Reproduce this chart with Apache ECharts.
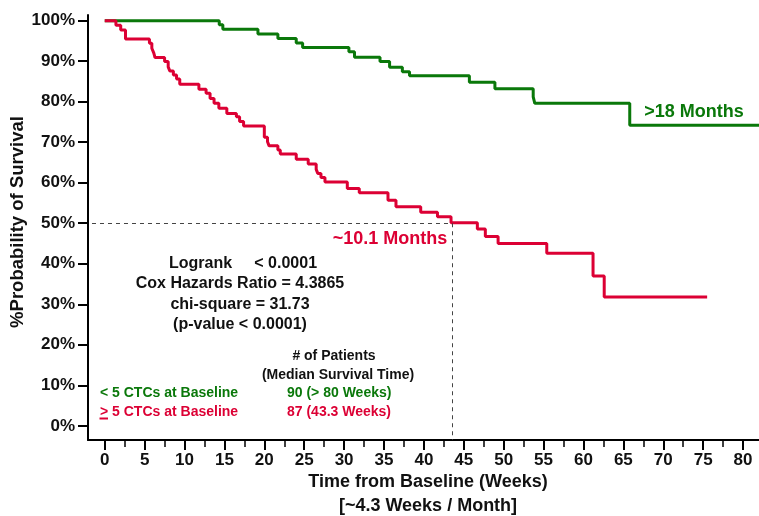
<!DOCTYPE html>
<html>
<head>
<meta charset="utf-8">
<script src="https://cdn.jsdelivr.net/npm/echarts@6/dist/echarts.min.js"></script>
<style>html,body{margin:0;padding:0;background:#fff;}#c{width:759px;height:516px;}</style>
</head>
<body>
<div id="c"></div>
<script>
// Kaplan-Meier steps (weeks, % survival after the step)
var greenWeeks = [0, 14.35, 14.8, 19.2, 21.7, 24.0, 24.8, 30.6, 31.3, 34.5, 35.7, 37.3, 38.2, 45.7, 48.9, 53.7, 53.9, 65.8, 82];
var greenSurv  = [100, 99.0, 97.9, 96.7, 95.6, 94.5, 93.4, 92.3, 91.0, 89.9, 88.5, 87.4, 86.4, 84.8, 83.2, 81.2, 79.6, 74.2, 74.2];

var redWeeks = [0, 1.4, 2.0, 2.6, 5.6, 5.9, 6.15, 6.3, 7.5, 7.95, 8.15, 8.6, 9.0, 9.4, 11.8, 12.7, 13.2, 13.7, 14.3, 15.3, 16.5, 16.9, 17.4, 20.0, 20.4, 20.6, 21.7, 22.0, 24.0, 25.5, 26.5, 26.7, 27.1, 27.6, 30.4, 31.9, 35.5, 36.5, 39.6, 41.7, 43.4, 46.7, 47.7, 49.3, 55.4, 61.2, 62.6, 75.5];
var redSurv  = [100, 98.9, 97.7, 95.5, 94.4, 93.2, 92.0, 90.9, 89.9, 88.6, 87.6, 86.6, 85.6, 84.3, 83.1, 82.1, 80.8, 79.6, 78.4, 77.1, 76.3, 75.1, 74.0, 71.2, 70.1, 69.1, 68.1, 67.1, 65.8, 64.6, 63.3, 62.3, 61.3, 60.2, 58.6, 57.5, 55.7, 54.1, 52.7, 51.6, 50.1, 48.6, 46.7, 45.0, 42.6, 37.0, 31.8, 31.8];

var xMajorTicks = [0, 5, 10, 15, 20, 25, 30, 35, 40, 45, 50, 55, 60, 65, 70, 75, 80];
var xMinorTicks = [2.5, 7.5, 12.5, 17.5, 22.5, 27.5, 32.5, 37.5, 42.5, 47.5, 52.5, 57.5, 62.5, 67.5, 72.5, 77.5];
var yTicks = [0, 10, 20, 30, 40, 50, 60, 70, 80, 90, 100];
var medianWeek = 43.5;

var GREEN = '#0a780a', RED = '#dc0034';
var FONT = 'Liberation Sans, Arial, sans-serif';

function zip(a, b) { return a.map(function (v, i) { return [v, b[i]]; }); }

var chart = echarts.init(document.getElementById('c'));
var X_MIN = -2.1, X_MAX = 82, Y_MIN = -3.5, Y_MAX = 101.4;

function txt(x, y, s, opts) {
  opts = opts || {};
  return {
    type: 'text', x: x, y: y, silent: true,
    style: {
      text: s, fill: opts.color || '#111', font: 'bold ' + (opts.size || 16) + 'px ' + FONT,
      textAlign: opts.align || 'center', textVerticalAlign: 'middle'
    },
    rotation: opts.rotation || 0
  };
}

chart.setOption({
  animation: false,
  backgroundColor: '#fff',
  grid: { left: 88, right: 0, top: 15, bottom: 76, containLabel: false },
  xAxis: [{
    type: 'value', min: X_MIN, max: X_MAX, position: 'bottom',
    axisLine: { show: true, onZero: false, lineStyle: { color: '#000', width: 2 } },
    axisTick: { show: true, customValues: xMajorTicks, length: 10, lineStyle: { color: '#000', width: 2 } },
    axisLabel: { show: true, customValues: xMajorTicks, margin: 12, color: '#111', fontSize: 17, fontWeight: 'bold', fontFamily: FONT },
    splitLine: { show: false }
  }, {
    type: 'value', min: X_MIN, max: X_MAX, position: 'bottom',
    axisLine: { show: false, onZero: false },
    axisTick: { show: true, customValues: xMinorTicks, length: 7, lineStyle: { color: '#000', width: 1.5 } },
    axisLabel: { show: false },
    splitLine: { show: false }
  }],
  yAxis: {
    type: 'value', min: Y_MIN, max: Y_MAX,
    axisLine: { show: true, onZero: false, lineStyle: { color: '#000', width: 2 } },
    axisTick: { show: true, customValues: yTicks, length: 10, lineStyle: { color: '#000', width: 2 } },
    axisLabel: { show: true, customValues: yTicks, margin: 13, formatter: '{value}%', color: '#111', fontSize: 17, fontWeight: 'bold', fontFamily: FONT },
    splitLine: { show: false }
  },
  series: [{
    name: '< 5 CTCs', type: 'line', step: 'end', data: zip(greenWeeks, greenSurv),
    showSymbol: false, symbol: 'none', lineStyle: { color: GREEN, width: 3 }, itemStyle: { color: GREEN }, z: 3
  }, {
    name: '>= 5 CTCs', type: 'line', step: 'end', data: zip(redWeeks, redSurv),
    showSymbol: false, symbol: 'none', lineStyle: { color: RED, width: 3 }, itemStyle: { color: RED }, z: 4,
    markLine: {
      silent: true, symbol: 'none', animation: false,
      label: { show: false },
      lineStyle: { color: '#444', width: 1, type: [4, 4] },
      data: [
        [{ coord: [X_MIN + 0.5, 50] }, { coord: [medianWeek, 50] }],
        [{ coord: [medianWeek, 50] }, { coord: [medianWeek, Y_MIN] }]
      ]
    }
  }],
  graphic: [
    txt(694, 112, '>18 Months', { color: GREEN, size: 18 }),
    txt(390, 239, '~10.1 Months', { color: RED, size: 18 }),
    txt(243, 263.5, 'Logrank     < 0.0001', { size: 16 }),
    txt(240, 284, 'Cox Hazards Ratio = 4.3865', { size: 16 }),
    txt(240, 304.5, 'chi-square = 31.73', { size: 16 }),
    txt(240, 325, '(p-value < 0.0001)', { size: 16 }),
    txt(334, 356, '# of Patients', { size: 14 }),
    txt(338, 375, '(Median Survival Time)', { size: 14 }),
    txt(100, 393.5, '< 5 CTCs at Baseline', { size: 14, color: GREEN, align: 'left' }),
    txt(287, 393.5, '90 (> 80 Weeks)', { size: 14, color: GREEN, align: 'left' }),
    txt(100, 412, '> 5 CTCs at Baseline', { size: 14, color: RED, align: 'left' }),
    { type: 'line', silent: true, shape: { x1: 99.5, y1: 418.5, x2: 108, y2: 418.5 }, style: { stroke: RED, lineWidth: 2 } },
    txt(287, 412, '87 (43.3 Weeks)', { size: 14, color: RED, align: 'left' }),
    txt(428, 482, 'Time from Baseline (Weeks)', { size: 18 }),
    txt(428, 506, '[~4.3 Weeks / Month]', { size: 18 }),
    txt(18, 222, '%Probability of Survival', { size: 18.5, rotation: Math.PI / 2 })
  ]
});
</script>
</body>
</html>
